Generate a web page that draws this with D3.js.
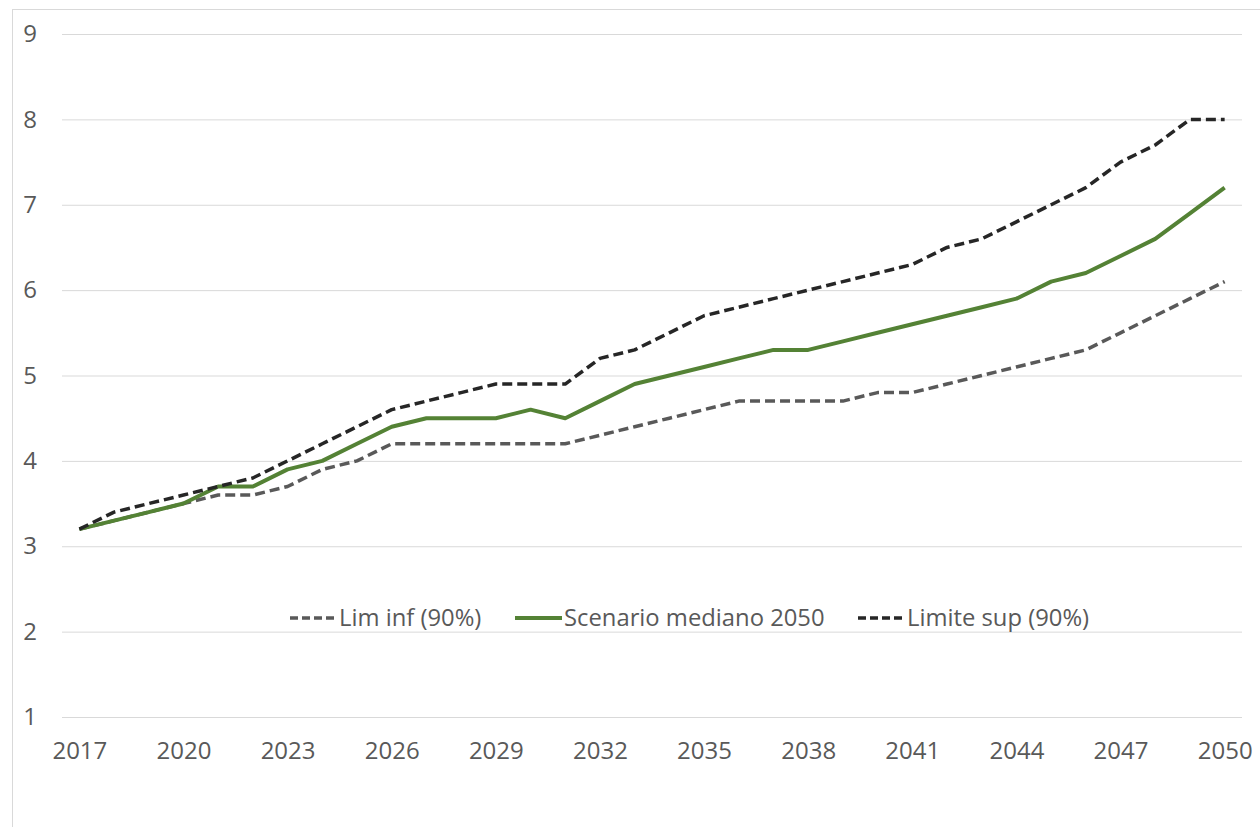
<!DOCTYPE html>
<html lang="it">
<head>
    <meta charset="UTF-8">
    <title>Scenario mediano 2050</title>
    <script src="https://cdn.jsdelivr.net/npm/d3@7/dist/d3.min.js"></script>
</head>
<body>
<style>
    body {
        margin: 0;
        background-color: white;
    }
    svg {
        display: block;
    }
    .tick text, .legend text {
        font-family: "Open Sans", sans-serif;
        fill: #595959;
    }
</style>

<svg width="1260" height="827"></svg>

<script>
    // anni e serie
    var years = d3.range(2017, 2051);
    var tickYears = [2017, 2020, 2023, 2026, 2029, 2032, 2035, 2038, 2041, 2044, 2047, 2050];
    var yTicks = [1, 2, 3, 4, 5, 6, 7, 8, 9];

    var limInf = [3.2, 3.3, 3.4, 3.5, 3.6, 3.6, 3.7, 3.9, 4.0, 4.2, 4.2, 4.2, 4.2, 4.2, 4.2, 4.3, 4.4,
        4.5, 4.6, 4.7, 4.7, 4.7, 4.7, 4.8, 4.8, 4.9, 5.0, 5.1, 5.2, 5.3, 5.5, 5.7, 5.9, 6.1];
    var mediano = [3.2, 3.3, 3.4, 3.5, 3.7, 3.7, 3.9, 4.0, 4.2, 4.4, 4.5, 4.5, 4.5, 4.6, 4.5, 4.7, 4.9,
        5.0, 5.1, 5.2, 5.3, 5.3, 5.4, 5.5, 5.6, 5.7, 5.8, 5.9, 6.1, 6.2, 6.4, 6.6, 6.9, 7.2];
    var limSup = [3.2, 3.4, 3.5, 3.6, 3.7, 3.8, 4.0, 4.2, 4.4, 4.6, 4.7, 4.8, 4.9, 4.9, 4.9, 5.2, 5.3,
        5.5, 5.7, 5.8, 5.9, 6.0, 6.1, 6.2, 6.3, 6.5, 6.6, 6.8, 7.0, 7.2, 7.5, 7.7, 8.0, 8.0];

    var series = [
        {name: "Lim inf (90%)", values: limInf, color: "#595959", dash: "10,5", width: 3.5},
        {name: "Scenario mediano 2050", values: mediano, color: "#548235", dash: null, width: 4},
        {name: "Limite sup (90%)", values: limSup, color: "#262626", dash: "10,5", width: 3.5}
    ];

    var svg = d3.select("svg");

    // cornice
    svg.append("rect")
        .attr("x", 12.5)
        .attr("y", 9.5)
        .attr("width", 1400)
        .attr("height", 1000)
        .attr("fill", "white")
        .attr("stroke", "#d9d9d9")
        .attr("stroke-width", 1);

    var getX = d3.scalePoint()
        .domain(years)
        .range([62, 1242])
        .padding(0.5);
    var getY = d3.scaleLinear()
        .domain([1, 9])
        .range([717, 34]);

    // griglia + etichette y
    var axisY = d3.axisLeft(getY)
        .tickValues(yTicks)
        .tickSize(-(1242 - 62))
        .tickPadding(25)
        .tickFormat(d3.format("d"));
    var gy = svg.append("g")
        .attr("transform", "translate(62,0)")
        .call(axisY);
    gy.select(".domain").remove();
    gy.selectAll(".tick line")
        .attr("stroke", "#d9d9d9")
        .attr("stroke-width", 1);
    gy.selectAll(".tick text")
        .style("font-size", "24px");

    var axisX = d3.axisBottom(getX)
        .tickValues(tickYears)
        .tickSize(0)
        .tickPadding(25);
    var gx = svg.append("g")
        .attr("transform", "translate(0,717)")
        .call(axisX);
    gx.select(".domain").remove();
    gx.selectAll(".tick text")
        .style("font-size", "24px");

    var line = d3.line()
        .x(function (d, i) { return getX(years[i]); })
        .y(function (d) { return getY(d); });

    svg.selectAll(".serie")
        .data(series)
        .enter()
        .append("path")
        .attr("class", "serie")
        .attr("fill", "none")
        .attr("stroke", function (d) { return d.color; })
        .attr("stroke-width", function (d) { return d.width; })
        .attr("stroke-dasharray", function (d) { return d.dash; })
        .attr("stroke-linejoin", "round")
        .attr("d", function (d) { return line(d.values); });

    // legenda
    var legendX = [290, 515, 858];
    var legend = svg.append("g")
        .attr("class", "legend");
    var item = legend.selectAll("g")
        .data(series)
        .enter()
        .append("g")
        .attr("transform", function (d, i) { return "translate(" + legendX[i] + ",618)"; });
    item.append("line")
        .attr("x1", 0)
        .attr("x2", 47)
        .attr("stroke", function (d) { return d.color; })
        .attr("stroke-width", function (d) { return d.width; })
        .attr("stroke-dasharray", function (d) { return d.dash ? "8,4" : null; });
    item.append("text")
        .attr("x", 49)
        .attr("dy", "0.35em")
        .style("font-size", "23.8px")
        .text(function (d) { return d.name; });
</script>
</body>
</html>
